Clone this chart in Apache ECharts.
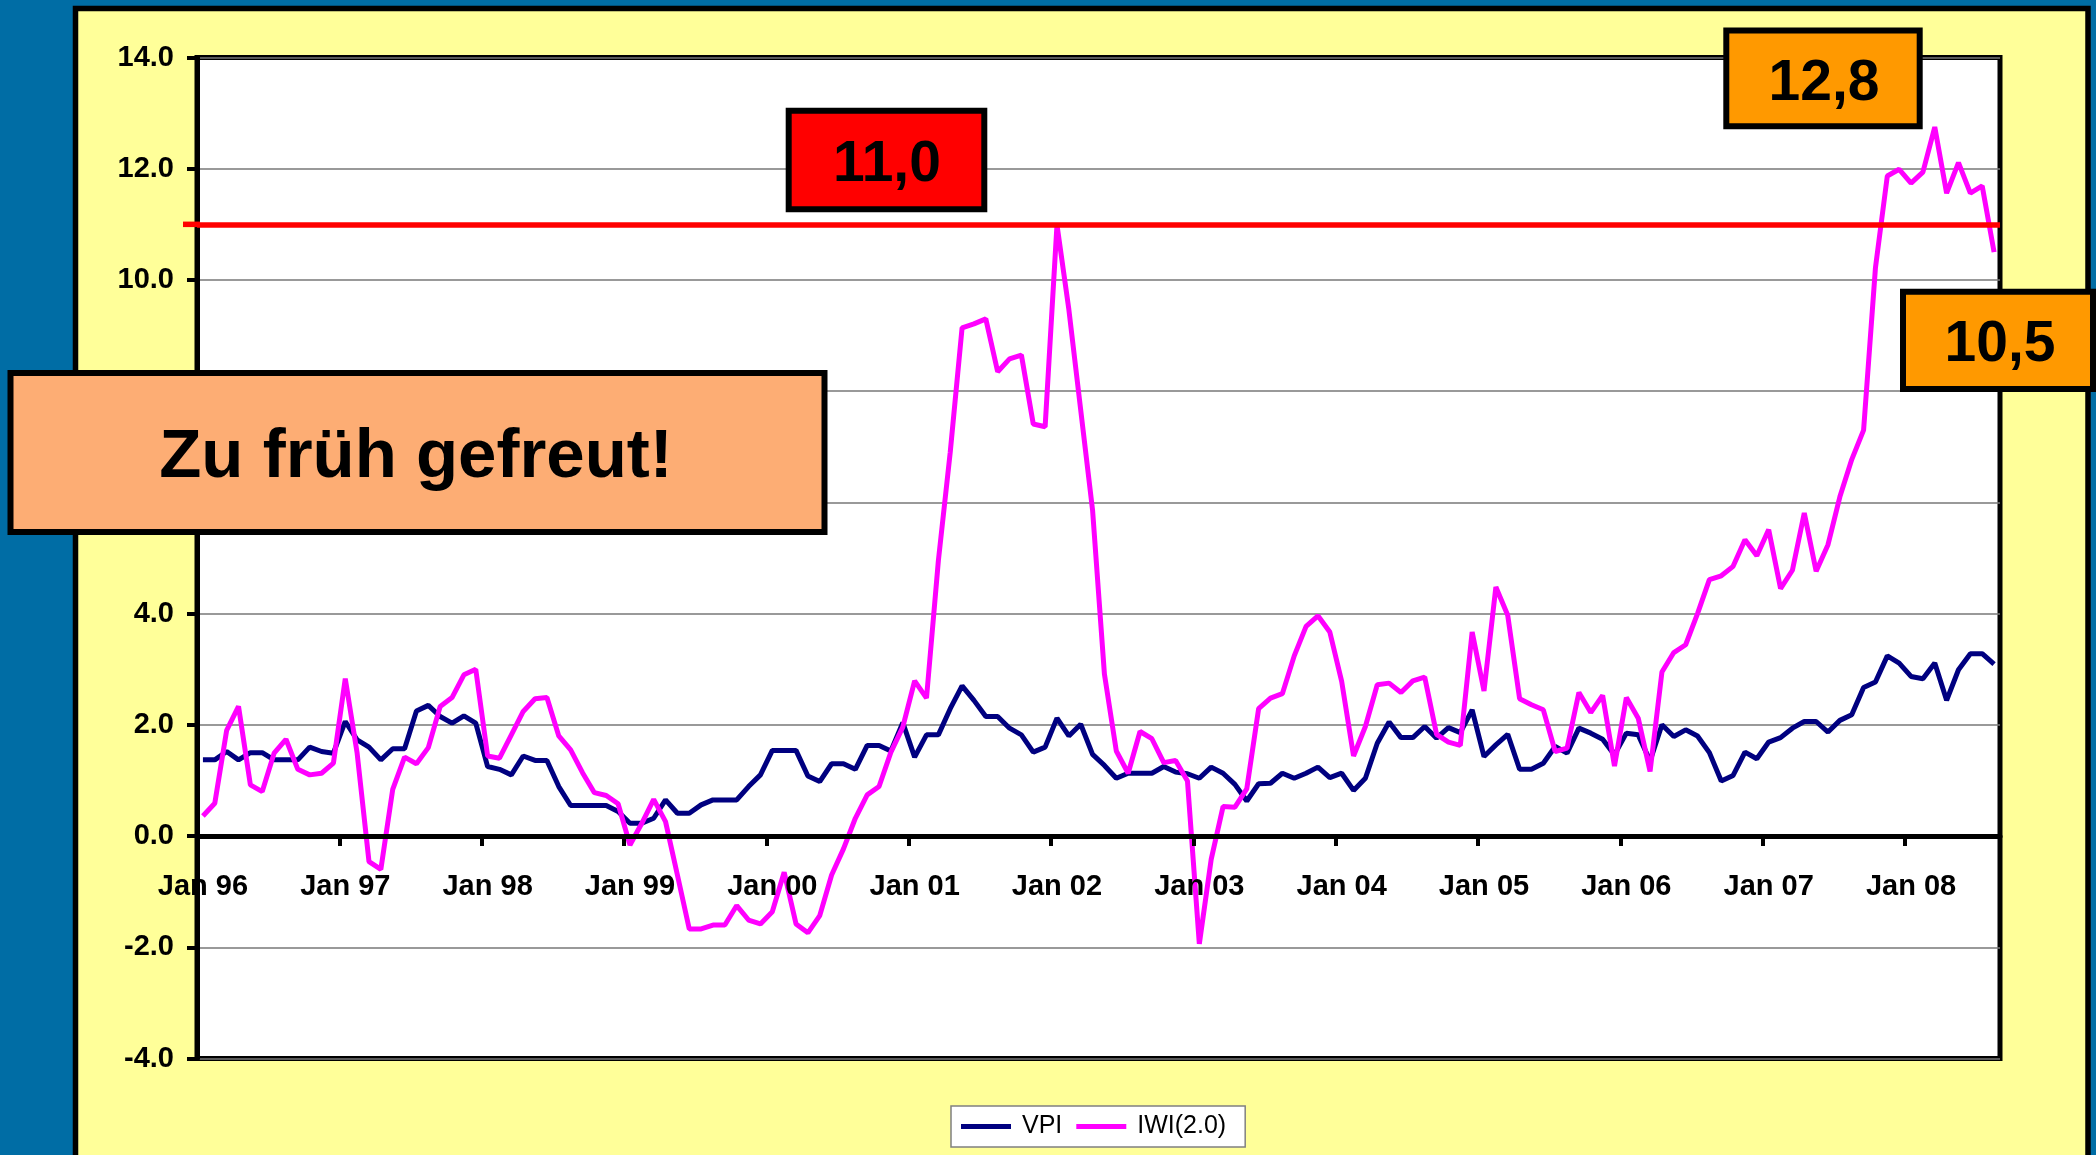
<!DOCTYPE html>
<html>
<head>
<meta charset="utf-8">
<title>VPI / IWI</title>
<script src="https://cdn.jsdelivr.net/npm/echarts@6.0.0/dist/echarts.min.js"></script>
<style>
  html, body { margin: 0; padding: 0; background: #006da5; }
  #chart { width: 2096px; height: 1155px; }
</style>
</head>
<body>
<div id="chart"></div>
<script>
// monthly values, Jan 96 .. Aug 08
let years = ["96", "97", "98", "99", "00", "01", "02", "03", "04", "05", "06", "07", "08"];
let monthNames = ["Jan", "Feb", "Mar", "Apr", "May", "Jun", "Jul", "Aug", "Sep", "Oct", "Nov", "Dec"];

let vpi = [
  1.37, 1.37, 1.52, 1.37, 1.50, 1.50, 1.37, 1.37, 1.37, 1.60, 1.52, 1.49,
  2.06, 1.73, 1.60, 1.37, 1.57, 1.57, 2.25, 2.35, 2.15, 2.03, 2.16, 2.03,
  1.25, 1.20, 1.10, 1.44, 1.36, 1.36, 0.89, 0.55, 0.55, 0.55, 0.55, 0.44,
  0.23, 0.23, 0.32, 0.65, 0.41, 0.41, 0.56, 0.65, 0.65, 0.65, 0.89, 1.10,
  1.54, 1.54, 1.54, 1.08, 0.98, 1.30, 1.30, 1.20, 1.63, 1.63, 1.53, 2.04,
  1.42, 1.82, 1.82, 2.29, 2.70, 2.44, 2.15, 2.15, 1.94, 1.82, 1.51, 1.60,
  2.12, 1.80, 2.01, 1.47, 1.27, 1.04, 1.13, 1.13, 1.13, 1.25, 1.15, 1.12,
  1.04, 1.24, 1.13, 0.93, 0.63, 0.94, 0.95, 1.13, 1.04, 1.13, 1.24, 1.05,
  1.13, 0.82, 1.04, 1.67, 2.05, 1.77, 1.77, 1.97, 1.76, 1.95, 1.86, 2.27,
  1.43, 1.64, 1.83, 1.20, 1.20, 1.31, 1.61, 1.49, 1.94, 1.85, 1.74, 1.46,
  1.85, 1.82, 1.35, 2.00, 1.79, 1.91, 1.80, 1.50, 0.99, 1.09, 1.51, 1.39,
  1.69, 1.77, 1.94, 2.06, 2.06, 1.87, 2.08, 2.18, 2.67, 2.77, 3.24, 3.11,
  2.87, 2.83, 3.11, 2.44, 2.99, 3.28, 3.28, 3.09
];

let iwi = [
  0.36, 0.59, 1.90, 2.33, 0.92, 0.80, 1.49, 1.74, 1.20, 1.10, 1.13, 1.31,
  2.83, 1.49, -0.46, -0.60, 0.84, 1.42, 1.30, 1.59, 2.33, 2.49, 2.90, 3.00,
  1.44, 1.40, 1.82, 2.24, 2.47, 2.49, 1.80, 1.55, 1.14, 0.78, 0.73, 0.58,
  -0.16, 0.23, 0.66, 0.26, -0.70, -1.67, -1.67, -1.60, -1.60, -1.25, -1.51, -1.58,
  -1.36, -0.65, -1.58, -1.74, -1.43, -0.70, -0.23, 0.32, 0.74, 0.89, 1.51, 1.96,
  2.79, 2.48, 4.95, 6.90, 9.14, 9.21, 9.30, 8.35, 8.58, 8.65, 7.41, 7.36,
  10.99, 9.47, 7.66, 5.86, 2.91, 1.53, 1.13, 1.88, 1.75, 1.32, 1.36, 0.99,
  -1.94, -0.42, 0.53, 0.52, 0.85, 2.29, 2.48, 2.56, 3.24, 3.77, 3.96, 3.67,
  2.78, 1.44, 1.97, 2.72, 2.75, 2.58, 2.79, 2.86, 1.83, 1.69, 1.63, 3.67,
  2.61, 4.48, 3.97, 2.47, 2.36, 2.27, 1.52, 1.58, 2.58, 2.22, 2.53, 1.26,
  2.49, 2.12, 1.16, 2.95, 3.30, 3.44, 4.00, 4.61, 4.68, 4.85, 5.33, 5.04,
  5.51, 4.45, 4.78, 5.81, 4.76, 5.24, 6.10, 6.77, 7.30, 10.22, 11.87, 11.99,
  11.74, 11.94, 12.75, 11.56, 12.11, 11.56, 11.69, 10.50
];

let threshold = 11.0;
let boxTexts = ["11,0", "12,8", "10,5", "Zu früh gefreut!"];

let months = [];
years.forEach(function(y) {
  monthNames.forEach(function(m) {
    months.push(m + " " + y);
  });
});
months = months.slice(0, vpi.length);

let yMin = -4, yMax = 14;
let gridTop = 57.5, gridBottom = 96.5;
let gridHeight = 1155 - gridTop - gridBottom;
// move the category axis up to the zero line
let zeroOffset = -(0 - yMin) / (yMax - yMin) * gridHeight;

function textBox(id, x, y, w, h, fill, text, fontSize, cx, cy) {
  return {
    type: "group",
    id: id,
    z: 100,
    children: [
      {
        type: "rect",
        z: 100,
        shape: { x: x, y: y, width: w, height: h },
        style: { fill: fill, stroke: "#000", lineWidth: 6 }
      },
      {
        type: "text",
        z: 101,
        x: cx,
        y: cy,
        style: {
          text: text,
          font: "bold " + fontSize + "px 'Liberation Sans', Arial, sans-serif",
          fill: "#000",
          textAlign: "center",
          textVerticalAlign: "middle"
        }
      }
    ]
  };
}

let chart = echarts.init(document.getElementById("chart"));
let labelFont = "'Liberation Sans', Arial, sans-serif";

let option = {
  backgroundColor: "#006da5",
  animation: false,
  grid: {
    left: 197,
    top: gridTop,
    right: 96,
    bottom: gridBottom,
    show: true,
    backgroundColor: "#fff",
    borderColor: "#000",
    borderWidth: 5
  },
  legend: {
    left: 951,
    top: 1106,
    icon: "rect",
    itemWidth: 50,
    itemHeight: 5,
    itemGap: 14,
    padding: [8, 19, 8, 10],
    backgroundColor: "#fff",
    borderColor: "#808080",
    borderWidth: 1.5,
    textStyle: { fontFamily: labelFont, fontSize: 25, color: "#000", padding: [0, 0, 0, 6] },
    data: ["VPI", "IWI(2.0)"]
  },
  xAxis: {
    type: "category",
    data: months,
    boundaryGap: true,
    position: "bottom",
    offset: zeroOffset,
    z: 5,
    axisLine: { onZero: false, lineStyle: { color: "#000", width: 5 } },
    axisTick: { show: true, interval: 11, length: 10, lineStyle: { color: "#000", width: 4 } },
    axisLabel: {
      interval: 11,
      margin: 36,
      color: "#000",
      fontFamily: labelFont,
      fontWeight: "bold",
      fontSize: 29
    },
    splitLine: { show: false }
  },
  yAxis: {
    type: "value",
    min: yMin,
    max: yMax,
    interval: 2,
    axisLine: { show: true, lineStyle: { color: "#000", width: 5 } },
    axisTick: { show: true, length: 10, lineStyle: { color: "#000", width: 4 } },
    axisLabel: {
      margin: 23,
      color: "#000",
      fontFamily: labelFont,
      fontWeight: "bold",
      fontSize: 29,
      formatter: function(v) { return v.toFixed(1); }
    },
    splitLine: { show: true, lineStyle: { color: "#777", width: 1.5 } }
  },
  series: [
    {
      name: "VPI",
      type: "line",
      data: vpi,
      symbol: "none",
      color: "#000080",
      lineStyle: { color: "#000080", width: 5 }
    },
    {
      name: "IWI(2.0)",
      type: "line",
      data: iwi,
      symbol: "none",
      color: "#ff00ff",
      lineStyle: { color: "#ff00ff", width: 5 },
      markLine: {
        silent: true,
        symbol: "none",
        label: { show: false },
        lineStyle: { color: "#ff0000", width: 5.5, type: "solid" },
        data: [{ yAxis: threshold }]
      }
    }
  ],
  graphic: [
    {
      type: "rect",
      id: "panel",
      z: -100,
      shape: { x: 75.5, y: 8.6, width: 2012.5, height: 1200 },
      style: { fill: "#ffff99", stroke: "#000", lineWidth: 5.5 }
    },
    textBox("box110", 788.7, 110.7, 195.6, 98.6, "#ff0000", boxTexts[0], 57, 887, 165),
    textBox("box128", 1726.3, 30.6, 193.4, 95.6, "#ff9900", boxTexts[1], 57, 1824, 84),
    textBox("box105", 1903, 291.7, 190, 97.3, "#ff9900", boxTexts[2], 57, 2000, 345),
    textBox("boxText", 10.5, 373, 814, 159, "#fdad74", boxTexts[3], 69, 416, 458)
  ]
};

chart.setOption(option);

// the drawn red line starts a little left of the value axis
let redY = chart.convertToPixel({ yAxisIndex: 0 }, threshold);
chart.setOption({
  graphic: [
    {
      type: "line",
      id: "redStub",
      z: 50,
      shape: { x1: 183, y1: redY, x2: 200, y2: redY },
      style: { stroke: "#ff0000", lineWidth: 5.5 }
    }
  ]
});
</script>
</body>
</html>
